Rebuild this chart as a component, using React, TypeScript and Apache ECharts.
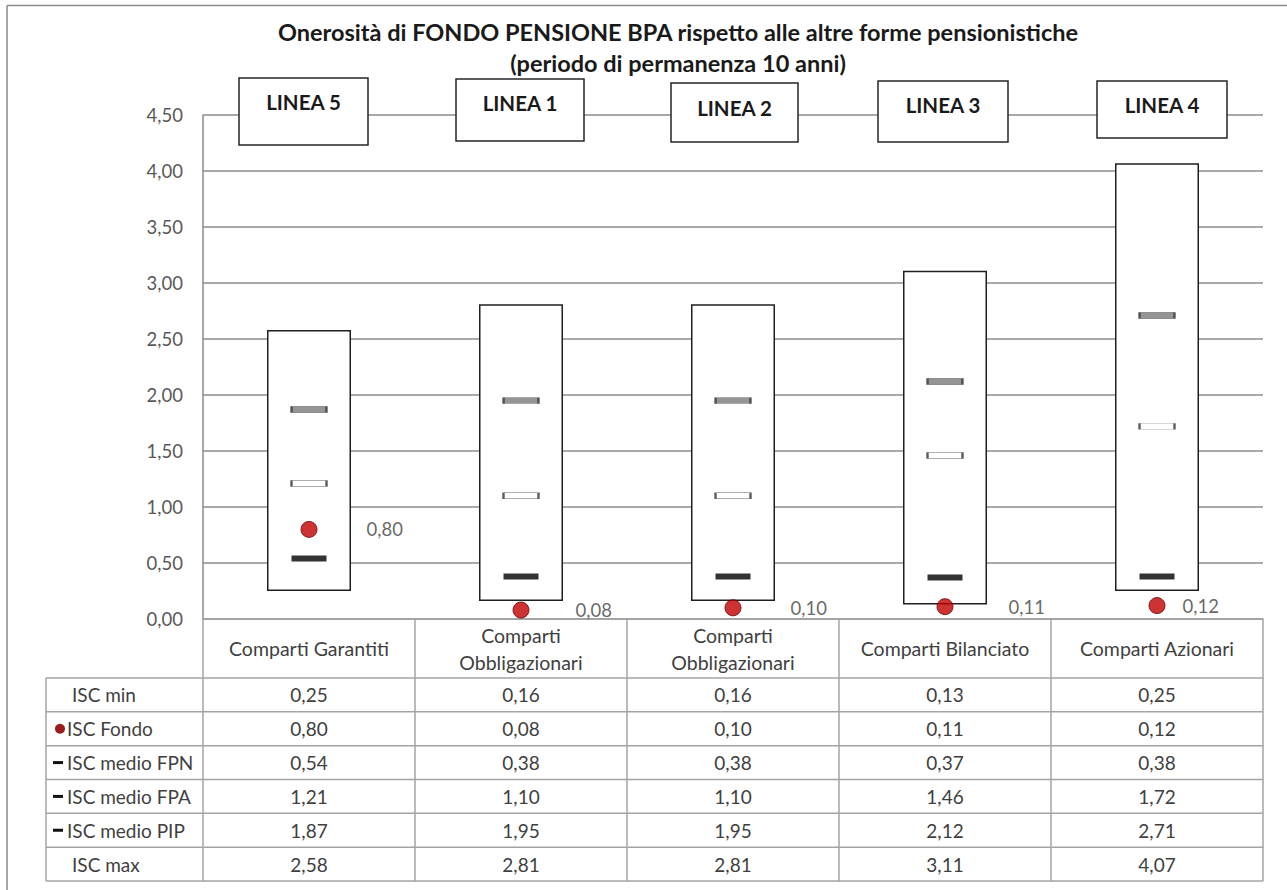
import React, { useEffect, useRef } from "react";
import * as echarts from "echarts";

// ---------- DATA ----------
const categories = [
  "Comparti Garantiti",
  "Comparti\nObbligazionari",
  "Comparti\nObbligazionari",
  "Comparti Bilanciato",
  "Comparti Azionari",
];
const lineeNames = ["LINEA 5", "LINEA 1", "LINEA 2", "LINEA 3", "LINEA 4"];
const iscMin = [0.25, 0.16, 0.16, 0.13, 0.25];
const iscFondo = [0.8, 0.08, 0.1, 0.11, 0.12];
const iscFPN = [0.54, 0.38, 0.38, 0.37, 0.38];
const iscFPA = [1.21, 1.1, 1.1, 1.46, 1.72];
const iscPIP = [1.87, 1.95, 1.95, 2.12, 2.71];
const iscMax = [2.58, 2.81, 2.81, 3.11, 4.07];
const rowLabels = ["ISC min", "ISC Fondo", "ISC medio FPN", "ISC medio FPA", "ISC medio PIP", "ISC max"];
const yMin = 0;
const yMax = 4.5;
const yInterval = 0.5;
const titleLines = [
  "Onerosità di FONDO PENSIONE BPA rispetto alle altre forme pensionistiche",
  "(periodo di permanenza 10 anni)",
];

// ---------- LAYOUT (not data) ----------
const W = 1287;
const H = 890;
const GRID = { left: 203, top: 115, right: 1263, bottom: 619 };
const TABLE_TOP = 678;
const TABLE_BOTTOM = 881;
const TABLE_LEFT = 46;
const lineaBoxes = [
  [239, 78, 129, 67],
  [456, 79, 128, 62],
  [671, 83, 127, 59],
  [878, 81, 130, 61],
  [1097, 81, 130, 57],
];
const lineaTextY = [102, 103, 108, 105, 105];
const labelDist = [49, 46, 49, 55, 17];
const FONT = 'Lato, "Noto Sans", sans-serif';
const GRID_COLOR = "#8c8c8c";
const TABLE_COLOR = "#a3a3a3";
const TEXT_COLOR = "#3f3f3f";

const fmt = (v: number) => v.toFixed(2).replace(".", ",");

function buildGraphic(colX: number[]) {
  const els: any[] = [];
  // outer border (top & left)
  els.push({ type: "line", shape: { x1: 7, y1: 5.5, x2: 1287, y2: 5.5 }, style: { stroke: "#8a8a8a", lineWidth: 1.5 } });
  els.push({ type: "line", shape: { x1: 7, y1: 5.5, x2: 7, y2: 890 }, style: { stroke: "#8a8a8a", lineWidth: 1.5 } });

  // LINEA boxes
  lineeNames.forEach((name, i) => {
    const [x, y, w, h] = lineaBoxes[i];
    els.push({
      type: "rect",
      shape: { x, y, width: w, height: h },
      style: { fill: "#fff", stroke: "#262626", lineWidth: 1.5 },
      z: 10,
    });
    els.push({
      type: "text",
      x: x + w / 2,
      y: lineaTextY[i],
      z: 11,
      style: {
        text: name,
        fontFamily: FONT,
        fontWeight: "bold",
        fontSize: 20.5,
        fill: "#1a1a1a",
        textAlign: "center",
        textVerticalAlign: "middle",
        align: "center",
        verticalAlign: "middle",
      },
    });
  });

  // table lines
  const rowH = (TABLE_BOTTOM - TABLE_TOP) / rowLabels.length;
  for (let r = 0; r <= rowLabels.length; r++) {
    const y = TABLE_TOP + r * rowH;
    els.push({ type: "line", shape: { x1: TABLE_LEFT, y1: y, x2: GRID.right, y2: y }, style: { stroke: TABLE_COLOR, lineWidth: 1.5 } });
  }
  els.push({ type: "line", shape: { x1: TABLE_LEFT, y1: TABLE_TOP, x2: TABLE_LEFT, y2: TABLE_BOTTOM }, style: { stroke: TABLE_COLOR, lineWidth: 1.5 } });

  const rows = [iscMin, iscFondo, iscFPN, iscFPA, iscPIP, iscMax];
  rowLabels.forEach((lab, r) => {
    const cy = TABLE_TOP + (r + 0.5) * rowH;
    const hasKey = r >= 1 && r <= 4;
    els.push({
      type: "text",
      x: hasKey ? 67 : 72,
      y: cy,
      style: {
        text: lab,
        fontFamily: FONT,
        fontSize: 19,
        fill: TEXT_COLOR,
        textAlign: "left",
        textVerticalAlign: "middle",
        align: "left",
        verticalAlign: "middle",
      },
    });
    if (r === 1) {
      els.push({ type: "circle", shape: { cx: 60, cy: cy, r: 5 }, style: { fill: "#9b1c1c" } });
    } else if (hasKey) {
      els.push({ type: "rect", shape: { x: 53, y: cy - 1.5, width: 10, height: 3 }, style: { fill: "#111" } });
    }
    rows[r].forEach((v, c) => {
      els.push({
        type: "text",
        x: colX[c],
        y: cy,
        style: {
          text: fmt(v),
          fontFamily: FONT,
          fontSize: 19,
          fill: TEXT_COLOR,
          textAlign: "center",
          textVerticalAlign: "middle",
          align: "center",
          verticalAlign: "middle",
        },
      });
    });
  });
  return els;
}

export default function App() {
  const ref = useRef<HTMLDivElement>(null);
  useEffect(() => {
    document.body.style.margin = "0";
    if (!ref.current) return;
    const chart = echarts.init(ref.current, null, { renderer: "svg" });
    const boxHeights = iscMax.map((v, i) => +(v - iscMin[i]).toFixed(2));
    const option: any = {
      animation: false,
      backgroundColor: "#ffffff",
      title: {
        text: titleLines.join("\n"),
        left: 678,
        top: 16,
        textAlign: "center",
        padding: 0,
        textStyle: {
          fontFamily: FONT,
          fontWeight: "bold",
          fontSize: 23.5,
          lineHeight: 31,
          color: "#1a1a1a",
        },
      },
      grid: {
        left: GRID.left,
        top: GRID.top,
        width: GRID.right - GRID.left,
        height: GRID.bottom - GRID.top,
        containLabel: false,
      },
      xAxis: {
        type: "category",
        data: categories,
        boundaryGap: true,
        axisLine: { show: true, lineStyle: { color: TABLE_COLOR, width: 1.5 } },
        axisTick: {
          show: true,
          interval: 0,
          length: TABLE_BOTTOM - GRID.bottom,
          lineStyle: { color: TABLE_COLOR, width: 1.5 },
        },
        axisLabel: {
          interval: 0,
          margin: (TABLE_TOP - GRID.bottom) / 2,
          verticalAlign: "middle",
          fontFamily: FONT,
          fontSize: 19.5,
          lineHeight: 27,
          color: TEXT_COLOR,
          align: "center",
        },
      },
      yAxis: {
        type: "value",
        min: yMin,
        max: yMax,
        interval: yInterval,
        axisLine: { show: true, lineStyle: { color: GRID_COLOR, width: 1.5 } },
        axisTick: { show: false },
        splitLine: { show: true, lineStyle: { color: GRID_COLOR, width: 1.5 } },
        axisLabel: {
          margin: 20,
          formatter: (v: number) => fmt(v),
          fontFamily: FONT,
          fontSize: 18.5,
          color: "#595959",
        },
      },
      series: [
        {
          name: "base",
          type: "bar",
          stack: "box",
          data: iscMin,
          barWidth: 84,
          itemStyle: { color: "transparent" },
          silent: true,
          z: 2,
        },
        {
          name: "ISC min-max",
          type: "bar",
          stack: "box",
          data: boxHeights,
          barWidth: 84,
          itemStyle: { color: "#ffffff", borderColor: "#1f1f1f", borderWidth: 1.5 },
          z: 2,
        },
        {
          name: "ISC medio FPN",
          type: "scatter",
          data: iscFPN,
          symbol: "rect",
          symbolSize: [35, 6],
          itemStyle: { color: "#000000" },
          z: 5,
        },
        {
          name: "ISC medio FPA",
          type: "scatter",
          data: iscFPA,
          symbol: "rect",
          symbolSize: [35, 6],
          itemStyle: { color: "#ffffff", borderColor: "#333333", borderWidth: 1 },
          z: 5,
        },
        {
          name: "ISC medio PIP",
          type: "scatter",
          data: iscPIP,
          symbol: "rect",
          symbolSize: [35, 6],
          itemStyle: { color: "#7a7a7a", borderColor: "#333333", borderWidth: 1 },
          z: 5,
        },
        {
          name: "ISC Fondo",
          type: "scatter",
          data: iscFondo.map((v, i) => ({
            value: v,
            label: { distance: labelDist[i] },
          })),
          symbol: "circle",
          symbolSize: 16,
          itemStyle: { color: "#c00000", borderColor: "#6e0000", borderWidth: 1 },
          label: {
            show: true,
            position: "right",
            formatter: (p: any) => fmt(p.value),
            fontFamily: FONT,
            fontSize: 18.5,
            color: TEXT_COLOR,
          },
          z: 6,
        },
      ],
    };
    chart.setOption(option);
    const colX = categories.map((_, i) => chart.convertToPixel({ xAxisIndex: 0 }, i) as number);
    chart.setOption({ graphic: { elements: buildGraphic(colX) } });
    return () => chart.dispose();
  }, []);
  return <div ref={ref} style={{ width: W, height: H }} />;
}
